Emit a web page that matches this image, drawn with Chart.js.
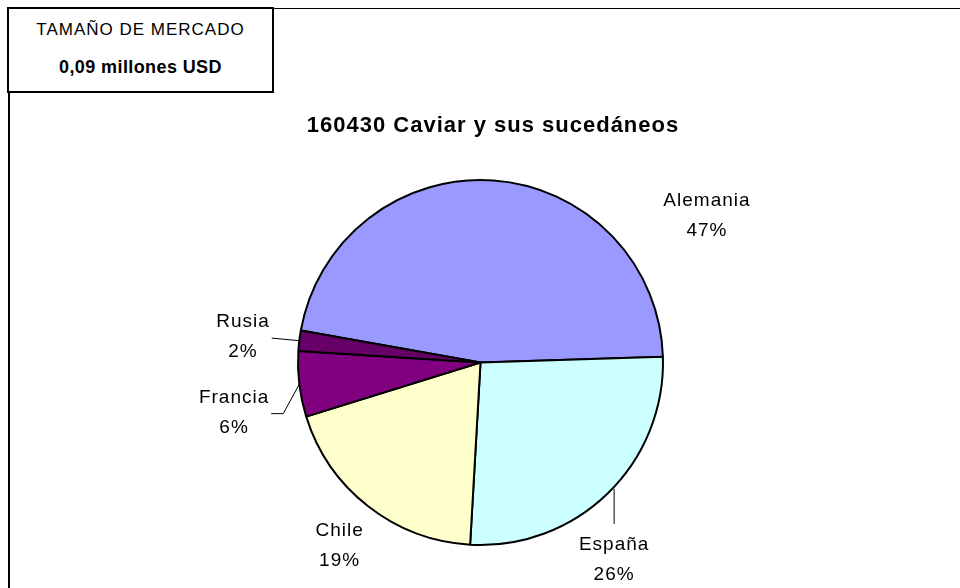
<!DOCTYPE html>
<html>
<head>
<meta charset="utf-8">
<script src="https://cdn.jsdelivr.net/npm/chart.js@4.4.1/dist/chart.umd.min.js"></script>
<style>
  body { margin: 0; width: 960px; height: 588px; overflow: hidden; background: #fff; font-family: "Liberation Sans", Arial, sans-serif; }
  #frame { position: absolute; left: 8px; top: 8px; width: 1200px; height: 800px; border-left: 2px solid #000; border-top: 1px solid #000; }
  #market { position: absolute; left: 7px; top: 7px; width: 263px; height: 82px; border: 2px solid #000; background: #fff; text-align: center; z-index: 2; }
  #market div { position: absolute; left: 0; right: 0; height: 18px; line-height: 18px; }
  #marketLabel { top: 12px; font-size: 17px; letter-spacing: 1px; }
  #marketValue { top: 49px; font-size: 18px; font-weight: bold; letter-spacing: 0.4px; }
  canvas { position: absolute; left: 0; top: 0; }
</style>
</head>
<body>
<div id="frame"></div>
<div id="market"><div id="marketLabel"></div><div id="marketValue"></div></div>
<canvas id="myChart" width="960" height="588"></canvas>
<script>
const countries = ["Alemania", "España", "Chile", "Francia", "Rusia"];
const shares = [46.7, 26.4, 19.3, 5.8, 1.8];
const chartTitle = "160430 Caviar y sus sucedáneos";
const marketLabel = "TAMAÑO DE MERCADO";
const marketValue = "0,09 millones USD";

const sliceColors = ["#9999FF", "#CCFFFF", "#FFFFCC", "#800080", "#660066"];

// where each label sits: angle from 12 o'clock (clockwise) and distance in radii
const labelSpots = [
  { angle: 57.1, dist: 1.478 },
  { angle: 145.9, dist: 1.306, leader: "top" },
  { angle: 217.5, dist: 1.268 },
  { angle: 258.5, dist: 1.378, leader: "side", elbow: 12 },
  { angle: 276.1, dist: 1.309, leader: "side" },
];

document.getElementById("marketLabel").textContent = marketLabel;
document.getElementById("marketValue").textContent = marketValue;

const fontFamily = "'Liberation Sans', Arial, sans-serif";

const pieLabels = {
  id: "pieLabels",
  afterDraw(chart) {
    const ctx = chart.ctx;
    const arcs = chart.getDatasetMeta(0).data;
    const total = shares.reduce((a, b) => a + b, 0);
    ctx.save();
    ctx.fillStyle = "#000";
    ctx.strokeStyle = "#000";
    ctx.lineWidth = 1;
    ctx.textAlign = "center";
    ctx.textBaseline = "middle";

    ctx.font = "19px " + fontFamily;
    ctx.letterSpacing = "1px";
    arcs.forEach((arc, i) => {
      const spot = labelSpots[i];
      const r = arc.outerRadius;
      const a = spot.angle * Math.PI / 180;
      const lx = arc.x + Math.sin(a) * r * spot.dist;
      const ly = arc.y - Math.cos(a) * r * spot.dist;
      const pct = Math.round(shares[i] / total * 100) + "%";
      ctx.fillText(countries[i], lx, ly - 15);
      ctx.fillText(pct, lx, ly + 15);

      if (spot.leader) {
        const mid = (arc.startAngle + arc.endAngle) / 2;
        let ex = arc.x + Math.cos(mid) * r;
        let ey = arc.y + Math.sin(mid) * r;
        ctx.beginPath();
        if (spot.leader === "top") {
          // straight up to the rim
          const dx = lx - arc.x;
          ex = lx;
          ey = arc.y + Math.sqrt(r * r - dx * dx) + 2;
          ctx.moveTo(lx, ly - 36);
        } else {
          const w = Math.max(ctx.measureText(countries[i]).width, ctx.measureText(pct).width);
          const sx = lx + w / 2 + 2;
          ctx.moveTo(sx, ly + 1);
          if (spot.elbow) ctx.lineTo(sx + spot.elbow, ly + 1);
        }
        ctx.lineTo(ex, ey);
        ctx.stroke();
      }
    });

    ctx.font = "bold 22px " + fontFamily;
    ctx.fillText(chartTitle, 493, 126);
    ctx.restore();
  },
};

const data = {
  labels: countries,
  datasets: [
    {
      data: shares,
      backgroundColor: sliceColors,
      borderColor: "#000",
      borderWidth: 2,
      hoverOffset: 0,
    },
  ],
};

const config = {
  type: "pie",
  data,
  options: {
    responsive: false,
    animation: false,
    devicePixelRatio: 1,
    events: [],
    rotation: 280.1,
    radius: 182.5,
    layout: {
      padding: { top: 180, bottom: 43, left: 1, right: 0 },
    },
    plugins: {
      legend: { display: false },
      tooltip: { enabled: false },
      title: { display: false },
    },
  },
  plugins: [pieLabels],
};

const myChart = new Chart(document.getElementById("myChart"), config);
</script>
</body>
</html>
